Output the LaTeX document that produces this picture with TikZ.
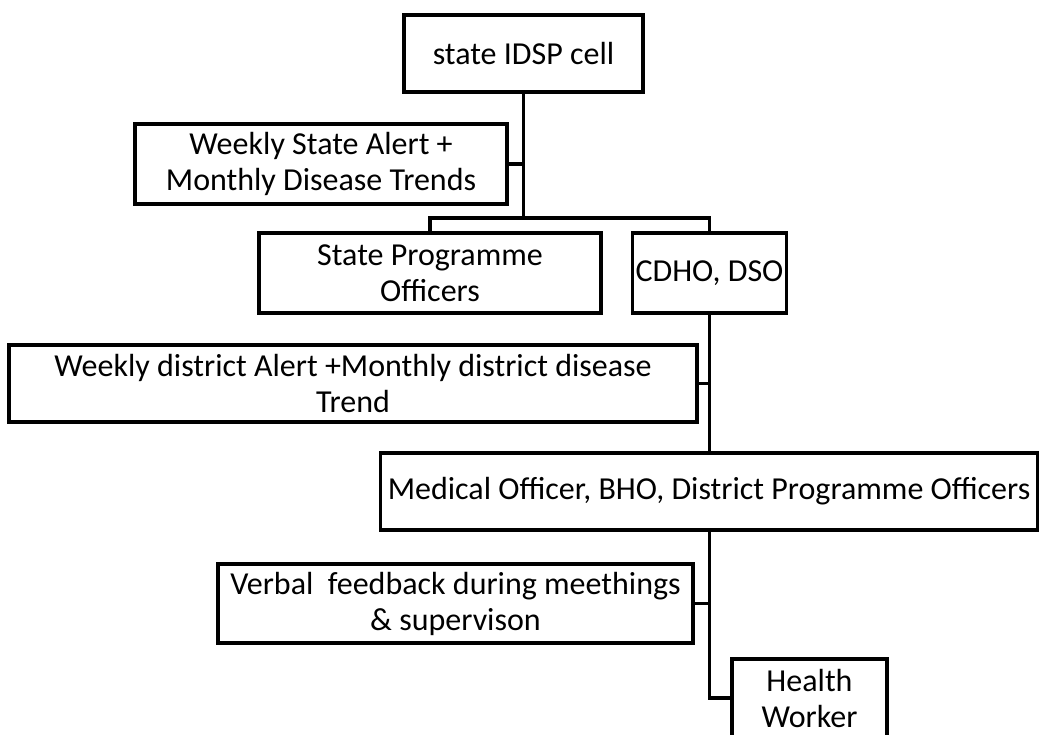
\documentclass[tikz,border=0pt]{standalone}
\usepackage{fontspec}
\setmainfont{Carlito}
\begin{document}
\begin{tikzpicture}[x=1pt,y=-1pt,
  box/.style={draw=black,line width=3.5pt,rectangle,inner sep=0pt,outer sep=0pt,
    align=center,font=\fontsize{32}{36}\selectfont},
  conn/.style={draw=black,line width=3.5pt,line cap=rect,line join=miter}]
\useasboundingbox (0,0) rectangle (1039,734);
\fill[white] (0,0) rectangle (1039,734);

\node[box,minimum width=239pt,minimum height=77pt] (top) at (523.5,53.5) {state IDSP cell};
\node[box,minimum width=372pt,minimum height=80pt] (wsa) at (321,164) {Weekly State Alert +\\Monthly Disease Trends};
\node[box,minimum width=342pt,minimum height=80pt] (spo) at (430,273) {State Programme\\Officers};
\node[box,minimum width=154pt,minimum height=80pt] (cdho) at (709.5,273) {CDHO, DSO};
\node[box,minimum width=688pt,minimum height=77pt] (dist) at (353,383.5) {Weekly district Alert +Monthly district disease\\Trend};
\node[box,minimum width=657pt,minimum height=77pt] (med) at (709,491.5) {Medical Officer, BHO, District Programme Officers};
\node[box,minimum width=475pt,minimum height=79pt] (verb) at (455.5,603.5) {Verbal\ \ feedback during meethings\\\& supervison};
\node[box,minimum width=155pt,minimum height=78pt] (hw) at (809.5,698) {Health\\Worker};

\coordinate (j1) at (523.5,218);
\draw[conn] (top.south) -- (j1);
\draw[conn] (wsa.east) -- (wsa.east -| top.south);
\draw[conn] (spo.north) |- (j1) -| (cdho.north);
\draw[conn] (cdho.south) -- (cdho.south |- med.north);
\draw[conn] (dist.east) -- (dist.east -| cdho.south);
\draw[conn] (med.south -| cdho.south) |- (hw.west);
\draw[conn] (verb.east) -- (verb.east -| cdho.south);
\end{tikzpicture}
\end{document}
